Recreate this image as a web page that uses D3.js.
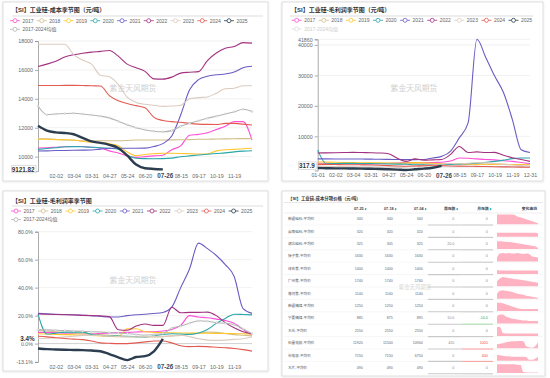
<!DOCTYPE html>
<html><head><meta charset="utf-8">
<script src="https://cdn.jsdelivr.net/npm/d3@7"></script>
<style>
body{margin:0;background:#fff;}
svg text{font-family:"Liberation Sans","Noto Sans CJK SC",sans-serif;}
</style></head><body>
<svg id="c" width="550" height="378"></svg>
<script>
const dates = ["01-01","01-17","02-02","02-17","03-04","03-18","03-31","04-14","04-27","05-11","05-24","06-07","06-20","07-08","07-26","08-05","08-15","09-01","09-17","10-03","10-19","11-03","11-19","12-10","12-31"];
const tickLabelsInner = ["02-02","03-04","03-31","04-27","05-24","06-20","08-15","09-17","10-19","11-19"];
const tickLabelsFull = ["01-01","02-02","03-04","03-31","04-27","05-24","06-20","08-15","09-17","10-19","11-19","12-31"];
const pointerLabel = "07-26";
const seriesNames = ["2017","2018","2019","2020","2021","2022","2023","2024","2025","2017-2024均值"];
const seriesColors = ["#ff4fd6","#d2bf8c","#ffc62e","#2aa7aa","#6a5cc4","#a2317f","#dccbbf","#e25a52","#2b3d4f","#b4b4b4"];

// 成本 (元/吨)
const cost2017 = [10600,10620,10650,10680,10700,10700,10650,10600,10400,10250,10050,9950,10000,10050,10100,10480,10750,11480,11540,11650,11880,12100,12420,12420,11150];
const cost2018 = [11250,11230,11200,11150,11130,11100,11100,11100,11100,11100,11120,11150,11150,11150,11150,11160,11170,11180,11200,11200,11220,11230,11240,11250,11250];
const cost2019 = [11200,11200,11180,11170,11150,11050,11000,10970,10900,10750,10320,10070,10150,10200,10230,10230,10220,10200,10180,10180,10400,10480,10500,10550,10580];
const cost2020 = [10500,10560,10620,10680,10690,10680,10650,10620,10580,10520,10100,9890,9860,9850,9860,9900,9990,10050,10110,10170,10220,10260,10330,10380,10410];
const cost2021 = [10390,10400,10420,10430,10440,10450,10460,10520,10580,10580,10580,10580,10590,10700,10900,11430,12880,14620,15330,15560,15660,15720,15850,16150,16250];
const cost2022 = [16230,16400,16600,16900,17050,17150,17230,17280,17340,16950,16400,16150,15900,15380,15360,15500,15780,15840,15880,16650,17170,17500,17620,17890,17850];
const cost2023 = [17780,17780,17780,17780,17060,16680,16400,15630,15520,15000,14120,13750,13620,13550,13480,13500,13560,14000,14080,14130,14390,14700,14730,14900,14900];
const cost2024 = [14920,14920,14920,14930,14930,14920,14900,14890,14220,13870,13680,13530,13380,12720,12500,12420,12380,12300,12250,12230,12220,12300,12300,12250,12190];
const cost2025 = [12130,11800,11680,11640,11550,11300,11050,10950,10820,10600,10080,9450,9200,9150,9121.82];
const costAvg = [13500,12900,12950,12980,13000,12950,12880,12800,12680,12450,12200,12000,11860,11760,11720,11800,12100,12300,12480,12650,12800,12950,13100,13280,13120];

// 毛利润 (元/吨)
const profit2017 = [1200,1150,1100,1050,1000,950,950,1000,1100,1250,1400,1300,1350,1450,1500,1900,2900,2800,2600,2400,2300,2000,1800,1400,1050];
const profit2018 = [900,950,1000,1050,1100,1100,1150,1200,1200,1150,1100,1050,1000,1000,950,950,900,900,850,850,800,800,750,750,700];
const profit2019 = [1600,1550,1500,1450,1400,1350,1300,1300,1250,1200,1300,1400,1300,1200,1100,1000,950,900,900,850,800,800,750,700,700];
const profit2020 = [5500,1000,1100,1150,1150,1100,1050,1000,950,900,850,700,700,700,750,800,900,1000,1200,1500,1800,2200,2700,2900,2900];
const profit2021 = [2600,2600,2590,2580,2560,2550,2520,2500,2450,2400,2380,2360,2400,2900,3440,5100,9500,14400,41860,35900,29800,24400,15600,5600,4700];
const profit2022 = [4560,4600,4650,4700,4750,4700,4650,4550,4300,2800,1800,2600,2200,2300,2400,4000,6700,4700,4900,4700,4750,3800,3000,2400,1800];
const profit2023 = [300,200,100,0,-100,-200,-200,-300,-400,-200,0,200,400,700,900,1100,1000,1200,1400,1300,1100,800,600,400,300];
const profit2024 = [800,800,750,700,700,650,600,500,400,300,200,300,350,500,400,300,250,200,150,100,50,0,-50,-100,-150];
const profit2025 = [-400,-450,-500,-500,-550,-600,-650,-700,-800,-900,-1050,-800,-600,-300,317.9];

// 毛利润率 (%)
const margin2017 = [8.0,8.0,7.8,7.5,7.3,7.0,7.0,7.2,7.5,7.8,8.0,8.3,8.5,8.5,9.0,10.0,13.0,20.0,19.0,18.5,17.5,16.5,14.5,10.0,6.0];
const margin2018 = [9.4,9.0,8.5,8.0,7.5,7.1,6.8,6.4,6.0,5.5,5.0,4.7,4.7,4.8,5.0,5.5,5.9,6.5,7.2,8.2,8.0,7.2,6.4,6.0,5.5];
const margin2019 = [7.0,6.8,6.6,6.4,6.2,6.0,5.8,5.5,5.3,5.0,10.5,10.6,8.5,8.0,7.8,7.7,7.6,7.5,7.5,7.4,7.3,7.2,7.1,7.0,6.8];
const margin2020 = [21.0,6.8,7.5,8.2,8.2,8.2,6.5,5.8,5.5,5.3,5.2,5.0,4.8,5.5,6.5,7.0,6.8,6.6,7.5,10.0,14.5,18.0,21.0,20.8,20.5];
const margin2021 = [21.6,21.3,21.0,20.8,20.6,20.3,20.0,19.5,19.0,19.0,20.0,20.6,21.0,21.5,22.2,26.0,40.0,53.5,71.8,67.9,63.0,56.5,48.0,25.0,21.6];
const margin2022 = [21.2,21.0,20.8,20.6,20.4,20.2,20.0,19.8,19.3,9.9,9.5,12.5,14.0,13.0,13.0,26.0,22.0,22.3,22.3,22.5,20.0,15.0,11.3,8.5,7.1];
const margin2023 = [3.5,3.8,4.2,4.8,5.2,5.9,5.9,5.8,5.5,5.0,4.8,4.9,5.0,5.1,5.2,5.5,6.0,5.0,3.5,2.5,2.3,2.5,3.0,3.5,4.7];
const margin2024 = [5.2,4.8,4.2,3.6,3.2,2.8,1.8,0.5,0.2,0.0,0.0,0.5,1.2,1.8,1.8,0.5,-1.5,-2.2,-2.0,-2.2,-2.6,-3.0,-3.5,-4.3,-5.4];
const margin2025 = [-3.5,-4.0,-4.2,-4.4,-4.6,-4.7,-5.0,-5.5,-7.5,-9.8,-11.8,-9.6,-9.0,-5.5,3.4];
const marginAvg = [10.0,9.8,9.5,9.3,9.0,8.8,8.5,8.2,7.8,7.5,7.2,6.5,6.0,6.5,7.2,11.0,12.5,14.5,16.3,16.0,15.0,14.5,13.5,10.5,7.1];

// 成本分项价格表
const tableHeaders = ["07-25","07-18","07-04","周涨跌","月涨跌","变化曲线"];
const tableItems = ["新疆硅石-平均价","云南硅石-平均价","湖北硅石-平均价","扬子焦-平均价","茂名焦-平均价","广州焦-平均价","塔河焦-平均价","新疆精煤-平均价","宁夏精煤-平均价","木炭-平均价","石墨电极-平均价","炭电极-平均价","木片-平均价"];
const price0725 = [340,320,325,1630,1400,1740,1140,1250,885,2550,11920,7150,490];
const price0718 = [340,320,305,1630,1400,1740,1140,1250,875,2550,11500,7150,490];
const price0704 = [340,320,325,1630,1400,1740,1140,1250,895,2550,10900,6750,490];
const sparkHistory = [
  [10,10,10,10,10,9.8,9.5,8,7,6,5,4,3,2,1],
  [4,4,4,4,4,4,4,4,4,4,4,4,4,4,3.5],
  [8,8,7.8,7.5,7.2,7,6.5,6,5.5,5,4.5,4,3.5,3,1],
  [4,8,8.5,8,8.5,8,8,8.5,8,7.5,8,7.5,5,4.5,4],
  [4,3.5,3.5,3.5,3.5,3.5,3.5,3.5,3.5,3.5,3.5,3.5,3.5,3.5,3.5],
  [5,8,9.5,9,8.5,8,7.5,7,6.5,6,5.5,5,4.5,4,3.5],
  [5,8,8.5,8,7.5,7,6,5,4.5,4,3,2.5,2,1.5,1],
  [8.5,8.5,8,7,6,5,4,3,2.5,2,2,2,2,2,2],
  [7,9,9,7,6,5,4.5,4,3.5,3,3,2.5,2.5,2.5,2.5],
  [9,9,3,2.5,2.5,2.5,2.5,2.5,2.5,2.5,2.5,2.5,2.5,2.5,2.5],
  [4,4.5,5,6,6.5,7,7,7.5,7.5,7,2,1,0.5,2,6],
  [6,5.5,5,4.5,4.5,4,4,4,4,4,3.5,1,1,2,4],
  [9,9,9,9,9,9,9,8.5,8.5,1,0.5,0.5,0.5,0.5,0.5]
];

const svg = d3.select("#c");
const defs = svg.append("defs");
const flt = defs.append("filter").attr("id","sh").attr("x","-5%").attr("y","-5%").attr("width","110%").attr("height","110%");
flt.append("feDropShadow").attr("dx",0).attr("dy",0.5).attr("stdDeviation",1).attr("flood-color","#000").attr("flood-opacity",0.12);

function card(x,y,w,h){
  svg.append("rect").attr("x",x).attr("y",y).attr("width",w).attr("height",h)
    .attr("fill","#fff").attr("stroke","#d6d6d6").attr("stroke-width",0.8).attr("filter","url(#sh)");
}
card(3,2,265,179);
card(282,2,261,179);
card(3,191,265,180);
card(282,191,263,185);

function seasonal(cfg){
  const g = svg.append("g");
  g.append("text").attr("x",cfg.titleX).attr("y",cfg.titleY).text(cfg.title)
    .attr("font-size",6).attr("font-weight","bold").attr("fill","#333");
  g.append("line").attr("x1",cfg.sepX0).attr("x2",cfg.sepX1).attr("y1",cfg.sepY).attr("y2",cfg.sepY)
    .attr("stroke","#cfcfcf").attr("stroke-width",0.7);
  seriesNames.forEach((n,i)=>{
    const row = i<9?0:1, col = i<9?i:0;
    const mx = cfg.legX + col*cfg.legStep, my = cfg.legY + row*8.6;
    const off = cfg.hideAvg && i===9;
    const c = off ? "#dddddd" : seriesColors[i];
    g.append("line").attr("x1",mx-5).attr("x2",mx+5).attr("y1",my).attr("y2",my).attr("stroke",c).attr("stroke-width",0.8);
    g.append("circle").attr("cx",mx).attr("cy",my).attr("r",2).attr("fill","#fff").attr("stroke",c).attr("stroke-width",0.8);
    g.append("text").attr("x",mx+7.5).attr("y",my+1.8).text(n).attr("font-size",5).attr("fill",off?"#cccccc":"#666");
  });
  const x = d3.scalePoint().domain(dates).range([cfg.x0,cfg.x1]);
  const y = d3.scaleLinear().domain(cfg.domain).range([cfg.yBot,cfg.yTop]);
  g.selectAll("line.grid").data(cfg.grid).join("line").attr("class","grid")
    .attr("x1",cfg.x0).attr("x2",cfg.x1).attr("y1",d=>y(d)).attr("y2",d=>y(d))
    .attr("stroke",d=>d===0?"#bdbdbd":"#ebebeb").attr("stroke-width",0.7);
  g.append("text").attr("x",cfg.wm[0]).attr("y",cfg.wm[1]+2.7).attr("text-anchor","middle")
    .attr("font-size",7.8).attr("fill","#d0d0d0").text("紫金天风期货");
  const ya = g.append("g").attr("transform",`translate(${cfg.x0},0)`)
    .call(d3.axisLeft(y).tickValues(cfg.ticks).tickFormat(cfg.fmt).tickSize(3).tickPadding(2));
  ya.select(".domain").attr("stroke","#888").attr("stroke-width",0.7);
  ya.selectAll(".tick line").attr("stroke","#888").attr("stroke-width",0.7);
  ya.selectAll(".tick text").attr("font-size",5.3).attr("fill","#666").attr("font-family",null);
  const xa = g.append("g").attr("transform",`translate(0,${cfg.yBot})`)
    .call(d3.axisBottom(x).tickValues(cfg.xTicks).tickSize(0).tickPadding(3));
  xa.select(".domain").remove();
  xa.selectAll(".tick text").attr("font-size",5.3).attr("fill","#666").attr("font-family",null);
  const line = d3.line().x((d,j)=>x(dates[j])).y(d=>y(d)).curve(d3.curveMonotoneX);
  cfg.series.forEach((arr,i)=>{
    if(!arr) return;
    g.append("path").datum(arr).attr("d",line).attr("fill","none")
      .attr("stroke",seriesColors[i]).attr("stroke-width",i===8?2.4:1.1).attr("stroke-linejoin","round");
    if(i===9){
      g.selectAll(null).data(arr).join("circle").attr("cx",(d,j)=>x(dates[j])).attr("cy",d=>y(d))
        .attr("r",0.9).attr("fill","#fff").attr("stroke",seriesColors[i]).attr("stroke-width",0.5);
    }
  });
  const last = cfg.series[8][cfg.series[8].length-1];
  const vy = y(last);
  g.append("rect").attr("x",cfg.boxX0).attr("y",vy-4).attr("width",cfg.boxX1-cfg.boxX0).attr("height",7.5)
    .attr("fill","#fff").attr("stroke",cfg.boxBorder?"#c8c8c8":"none").attr("stroke-width",0.6);
  g.append("text").attr("x",cfg.boxX1-1.5).attr("y",vy+2.2).attr("text-anchor","end")
    .attr("font-size",6.3).attr("font-weight","bold").attr("fill","#333").text(cfg.lastText);
  const px = x(pointerLabel)+2.5;
  g.append("rect").attr("x",px-9.5).attr("y",cfg.yBot+1).attr("width",19).attr("height",8).attr("fill","#fff");
  g.append("text").attr("x",px).attr("y",cfg.yBot+7.2).attr("text-anchor","middle")
    .attr("font-size",6.3).attr("font-weight","bold").attr("fill","#34495e").text(pointerLabel);
}

seasonal({
  title:"【SI】工业硅-成本季节图（元/吨）", titleX:12, titleY:12, sepX0:12, sepX1:263, sepY:16,
  legX:15, legStep:26.75, legY:20.7,
  x0:38, x1:252, yTop:41, yBot:171.1, domain:[9000,18000],
  ticks:[10000,12000,14000,16000,18000], grid:[10000,12000,14000,16000,18000], fmt:d3.format("d"),
  xTicks:tickLabelsInner, wm:[133,88],
  series:[cost2017,cost2018,cost2019,cost2020,cost2021,cost2022,cost2023,cost2024,cost2025,costAvg],
  lastText:"9121.82", boxX0:11.7, boxX1:36, boxBorder:true
});
seasonal({
  title:"【SI】工业硅-毛利润季节图（元/吨）", titleX:291, titleY:12, sepX0:290, sepX1:533, sepY:16,
  legX:296.7, legStep:27.1, legY:20.3, hideAvg:true,
  x0:317.7, x1:530, yTop:39.3, yBot:170.5, domain:[-1200,41860],
  ticks:[10000,20000,30000,40000,41860], grid:[0,10000,20000,30000,40000,41860], fmt:d3.format("d"),
  xTicks:tickLabelsFull, wm:[414,88],
  series:[profit2017,profit2018,profit2019,profit2020,profit2021,profit2022,profit2023,profit2024,profit2025,null],
  lastText:"317.9", boxX0:298.3, boxX1:316.2, boxBorder:true
});
seasonal({
  title:"【SI】工业硅-毛利润率季节图", titleX:12, titleY:203, sepX0:12, sepX1:263, sepY:206,
  legX:16, legStep:27.2, legY:211,
  x0:38, x1:252, yTop:231.7, yBot:361.9, domain:[-13.1,80],
  ticks:[-13.1,0,20,40,60,80], grid:[0,20,40,60,80], fmt:d=>d.toFixed(1)+"%",
  xTicks:tickLabelsInner, wm:[133,280],
  series:[margin2017,margin2018,margin2019,margin2020,margin2021,margin2022,margin2023,margin2024,margin2025,marginAvg],
  lastText:"3.4%", boxX0:19, boxX1:36, boxBorder:false
});

// ---- table ----
(function(){
  const g = svg.append("g");
  g.append("text").attr("x",288).attr("y",199.5).attr("font-size",4.4).attr("font-weight","bold").attr("fill","#333")
    .text("【SI】工业硅-成本分项价格（元/吨）");
  g.append("line").attr("x1",284).attr("x2",543).attr("y1",202.5).attr("y2",202.5).attr("stroke","#d8d8d8").attr("stroke-width",0.6);
  const colRight = [366.7,396.7,426.7,458.3,491.7,538];
  const headY = 208.3;
  tableHeaders.forEach((h,i)=>{
    const sortable = i<5;
    g.append("text").attr("x",sortable?colRight[i]-3:colRight[i]-1).attr("y",headY+1.3).attr("text-anchor","end")
      .attr("font-size",3.8).attr("font-weight","bold").attr("fill","#444").text(h);
    if(sortable){
      g.append("rect").attr("x",colRight[i]-1.8).attr("y",headY-0.2).attr("width",1.4).attr("height",2)
        .attr("fill","#2bb3a3");
    }
  });
  g.append("line").attr("x1",284).attr("x2",543).attr("y1",213).attr("y2",213).attr("stroke","#e4e4e4").attr("stroke-width",0.6);
  const rowH = 12.4, row0 = 219;
  const fmtChg = d => d===0 ? "0" : (Math.abs(d)<100 ? d.toFixed(1) : String(d));
  const spX = d3.scaleLinear().domain([0,sparkHistory[0].length-1]).range([497,538]);
  // watermark sits between two rows so it does not cover cell text
  g.append("text").attr("x",415).attr("y",289.2).attr("text-anchor","middle").attr("font-size",5.4)
    .attr("fill","#d6d6d6").text("紫金天风期货");
  tableItems.forEach((name,i)=>{
    const cy = row0 + i*rowH;
    const wk = price0725[i]-price0718[i], mo = price0725[i]-price0704[i];
    g.append("text").attr("x",288).attr("y",cy+1.2).attr("font-size",3.6).attr("fill","#555").text(name);
    [price0725[i],price0718[i],price0704[i]].forEach((v,k)=>{
      g.append("text").attr("x",colRight[k]-4).attr("y",cy+1.2).attr("text-anchor","end")
        .attr("font-size",3.6).attr("fill","#666").text(v);
    });
    g.append("text").attr("x",colRight[3]-4).attr("y",cy+1.2).attr("text-anchor","end")
      .attr("font-size",3.6).attr("fill","#888").text(fmtChg(wk));
    g.append("text").attr("x",colRight[4]-4).attr("y",cy+1.2).attr("text-anchor","end")
      .attr("font-size",3.6).attr("fill",mo>0?"#f0443a":(mo<0?"#3aa043":"#888")).text(fmtChg(mo));
    const by = cy + 6;
    g.append("line").attr("x1",428).attr("x2",461.7).attr("y1",by).attr("y2",by).attr("stroke","#c9c9c9").attr("stroke-width",1.1);
    g.append("line").attr("x1",461.7).attr("x2",493).attr("y1",by).attr("y2",by)
      .attr("stroke",mo>0?"#f7a3a0":(mo<0?"#a8d8a8":"#c9c9c9")).attr("stroke-width",1.1);
    if(i<tableItems.length-1){
      g.append("line").attr("x1",284).attr("x2",428).attr("y1",by).attr("y2",by).attr("stroke","#eeeeee").attr("stroke-width",0.5);
      g.append("line").attr("x1",493).attr("x2",543).attr("y1",by).attr("y2",by).attr("stroke","#eeeeee").attr("stroke-width",0.5);
    }
    const spY = d3.scaleLinear().domain([0,10]).range([cy+5.3,cy-4.6]);
    const area = d3.area().x((d,j)=>spX(j)).y0(cy+5.3).y1(d=>spY(d)).curve(d3.curveMonotoneX);
    g.append("path").datum(sparkHistory[i]).attr("d",area).attr("fill","#ffb3c2");
  });
})();
</script>
</body></html>
